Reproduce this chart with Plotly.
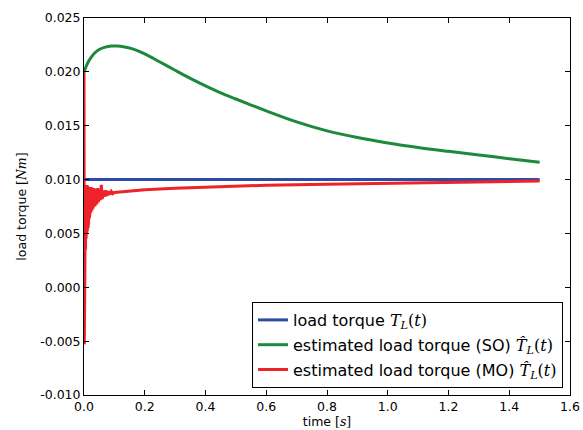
import plotly.graph_objects as go

# Reference load torque (constant)
t_ref = [0.0, 1.5]
torque_ref = [0.010, 0.010]

# Single-observer (SO) estimate
t_so = [0.0, 0.01, 0.02, 0.035, 0.05, 0.07, 0.09, 0.11, 0.13, 0.16, 0.20, 0.25,
        0.30, 0.35, 0.40, 0.45, 0.50, 0.55, 0.60, 0.70, 0.80, 0.90, 1.00, 1.10,
        1.20, 1.30, 1.40, 1.50]
torque_so = [0.0200, 0.0207, 0.0212, 0.02175, 0.02208, 0.0223, 0.02239, 0.0224,
             0.02233, 0.02213, 0.02167, 0.02092, 0.02015, 0.01940, 0.01870,
             0.01805, 0.01748, 0.01692, 0.01638, 0.01535, 0.01452, 0.01390,
             0.01340, 0.01298, 0.01262, 0.01228, 0.01194, 0.01160]

# Multi-observer (MO) estimate, oscillating during start-up
t_mo = [0.0, 0.001, 0.002, 0.003, 0.004, 0.005, 0.006, 0.007, 0.008, 0.009,
        0.010, 0.011, 0.012, 0.013, 0.014, 0.015, 0.016, 0.017, 0.018, 0.019,
        0.020, 0.022, 0.024, 0.026, 0.028, 0.030, 0.033, 0.036, 0.039, 0.042,
        0.045, 0.048, 0.051, 0.054, 0.057, 0.060, 0.064, 0.068, 0.072, 0.076,
        0.080, 0.085, 0.090, 0.095, 0.100,
        0.15, 0.20, 0.30, 0.40, 0.50, 0.60, 0.80, 1.00, 1.20, 1.40, 1.50]
torque_mo = [0.0200, -0.0053, 0.0050, 0.0020, 0.0072, 0.0035, 0.0088, 0.0045,
             0.0094, 0.0050, 0.0095, 0.0052, 0.0094, 0.0055, 0.0094, 0.0060,
             0.0093, 0.0064, 0.0093, 0.0067, 0.0092, 0.0069, 0.0093, 0.0071,
             0.0092, 0.0073, 0.0092, 0.0075, 0.0091, 0.0077, 0.0092, 0.0079,
             0.0091, 0.0081, 0.0095, 0.0082, 0.0090, 0.0084, 0.0090, 0.0085,
             0.0089, 0.0086, 0.0089, 0.0087, 0.0088,
             0.00895, 0.00905, 0.00920, 0.00930, 0.00940, 0.00947, 0.00957,
             0.00966, 0.00975, 0.00983, 0.00986]

x_ticks = [0.0, 0.2, 0.4, 0.6, 0.8, 1.0, 1.2, 1.4, 1.6]
x_tick_text = ["0.0", "0.2", "0.4", "0.6", "0.8", "1.0", "1.2", "1.4", "1.6"]
y_ticks = [-0.010, -0.005, 0.000, 0.005, 0.010, 0.015, 0.020, 0.025]
y_tick_text = ["-0.010", "-0.005", "0.000", "0.005", "0.010", "0.015", "0.020", "0.025"]

SERIF = "DejaVu Serif"


def math(s):
    return f'<span style="font-family:{SERIF}">{s}</span>'


name_ref = "load torque " + math("<i>T<sub>L</sub></i>(<i>t</i>)")
name_so = "estimated load torque (SO) " + math("<i>T\u0302<sub>L</sub></i>(<i>t</i>)")
name_mo = "estimated load torque (MO) " + math("<i>T\u0302<sub>L</sub></i>(<i>t</i>)")

fig = go.Figure()
fig.add_trace(go.Scatter(x=t_ref, y=torque_ref, mode="lines", name=name_ref,
                         legendgroup="a", line=dict(color="#2b4ba6", width=3)))
fig.add_trace(go.Scatter(x=t_so, y=torque_so, mode="lines", name=name_so,
                         legendgroup="b",
                         line=dict(color="#1c8a3a", width=3, shape="spline",
                                   smoothing=1.0)))
fig.add_trace(go.Scatter(x=t_mo, y=torque_mo, mode="lines", name=name_mo,
                         legendgroup="c", line=dict(color="#ee2229", width=3)))

axis_common = dict(
    showline=True, linecolor="black", linewidth=1, mirror="allticks",
    ticks="inside", ticklen=5, tickcolor="black", tickwidth=1,
    showgrid=False, zeroline=False, automargin=False,
    tickfont=dict(family="DejaVu Sans", size=12.5, color="black"),
)

fig.update_layout(
    width=583, height=430,
    margin=dict(l=84, r=13, t=18, b=35, autoexpand=False),
    paper_bgcolor="white", plot_bgcolor="white",
    font=dict(family="DejaVu Sans", color="black"),
    xaxis=dict(range=[0, 1.6], tickmode="array", tickvals=x_ticks,
               ticktext=x_tick_text,
               title=dict(text="time " + math("[<i>s</i>]"), standoff=0,
                          font=dict(size=12.5)),
               **axis_common),
    yaxis=dict(range=[-0.010, 0.025], tickmode="array", tickvals=y_ticks,
               ticktext=y_tick_text,
               title=dict(text="load torque " + math("[<i>Nm</i>]"), standoff=10,
                          font=dict(size=12.5)),
               **axis_common),
    legend=dict(x=0.9856, y=0.0186, xanchor="right", yanchor="bottom",
                bordercolor="black", borderwidth=1, bgcolor="white",
                font=dict(size=16, family="DejaVu Sans"),
                tracegroupgap=1),
    showlegend=True,
)

fig.write_html("out.html")
